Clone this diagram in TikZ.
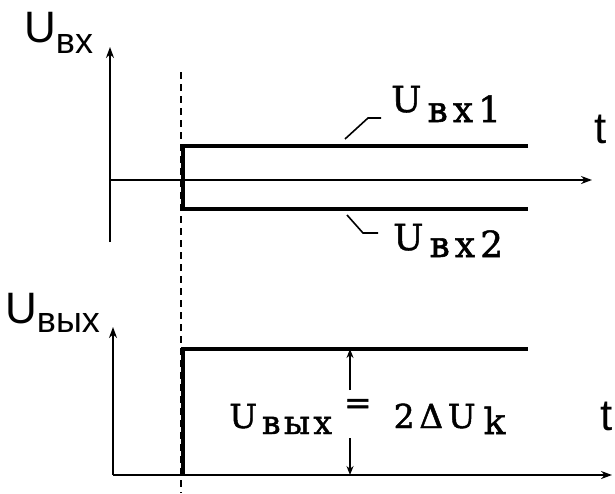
\documentclass[tikz,border=0pt]{standalone}
\usepackage{fontspec}
\setmainfont{Liberation Sans}
\newfontfamily\slabfnt[RawFeature={embolden=1.4}]{DejaVu Serif}
\usetikzlibrary{arrows.meta}
\newcommand\lsp[2]{{\addfontfeature{LetterSpace=#1}#2}}
\begin{document}
\begin{tikzpicture}[x=1pt,y=-1pt,
  axis/.style={line width=2pt,-{Stealth[length=11pt,width=8pt]}},
  pulse/.style={line width=4.5pt},
  guide/.style={line width=2.5pt,dash pattern=on 7pt off 5pt},
  leader/.style={line width=1.6pt},
  dim/.style={line width=1.6pt,-{Stealth[length=9pt,width=7pt]}},
  lbl/.style={inner sep=0pt,anchor=base west},
  big/.style={font=\fontsize{44}{44}\selectfont},
  slab/.style={font=\slabfnt\fontsize{36}{36}\selectfont},
  slabs/.style={font=\slabfnt\fontsize{33}{33}\selectfont}]
\useasboundingbox (0,0) rectangle (615,493);
% top graph
\coordinate (o1) at (110,180);
\coordinate (y1) at (110,47);
\coordinate (x1) at (592,180);
\coordinate (b1) at (110,242);
\draw[axis] (b1) -- (y1);
\draw[axis] (o1) -- (x1);
\coordinate (d1) at (181,72);
\coordinate (d2) at (181,493);
\draw[guide] (d1) -- (d2);
\coordinate (p1a) at (528,146);
\coordinate (p1b) at (183,146);
\coordinate (p1c) at (183,209);
\coordinate (p1d) at (528,209);
\draw[pulse] (p1a) -- (p1b) -- (p1c) -- (p1d);
\node[lbl,big] (ubx) at (24,42) {U\raisebox{-11pt}{\fontsize{36}{36}\selectfont вх}};
\node[lbl,big] (t1) at (594,143) {t};
% labels Uvx1 Uvx2
\node[lbl,slab] (u1) at (391,112) {\lsp{1}{U}\hspace{6pt}\raisebox{-10pt}{\lsp{14}{вх1}}};
\node[lbl,slab] (u2) at (393,250) {\lsp{1}{U}\hspace{6pt}\raisebox{-7pt}{\lsp{14}{вх2}}};
\coordinate (l1a) at (345,139);
\coordinate (l1b) at (368,118);
\coordinate (l1c) at (381,118);
\draw[leader] (l1a) -- (l1b) -- (l1c);
\coordinate (l2a) at (347,215);
\coordinate (l2b) at (363,233);
\coordinate (l2c) at (378,233);
\draw[leader] (l2a) -- (l2b) -- (l2c);
% bottom graph
\coordinate (o2) at (113,475);
\coordinate (y2) at (113,327);
\coordinate (x2) at (612,475);
\draw[axis] (o2) -- (y2);
\draw[axis] (o2) -- (x2);
\coordinate (q1) at (183,475);
\coordinate (q2) at (183,349);
\coordinate (q3) at (528,349);
\draw[pulse] (q1) -- (q2) -- (q3);
\node[lbl,big] (ubyx) at (5,323) {U\raisebox{-9pt}{\fontsize{36}{36}\selectfont вых}};
\node[lbl,big] (t2) at (600,430) {t};
\coordinate (m1) at (350,390);
\coordinate (m2) at (350,349);
\coordinate (m3) at (350,438);
\coordinate (m4) at (350,475);
\draw[dim] (m1) -- (m2);
\draw[dim] (m3) -- (m4);
\node[lbl,slabs] (eq) at (229,428) {\lsp{1}{U}\hspace{5pt}\raisebox{-6pt}{\lsp{10}{вых}}\hspace{12pt}\raisebox{14pt}{\lsp{1}{=}}\hspace{22pt}\lsp{14}{2ΔU}\hspace{8pt}\raisebox{-6pt}{\fontsize{36}{36}\selectfont\lsp{1}{k}}};
\end{tikzpicture}
\end{document}
